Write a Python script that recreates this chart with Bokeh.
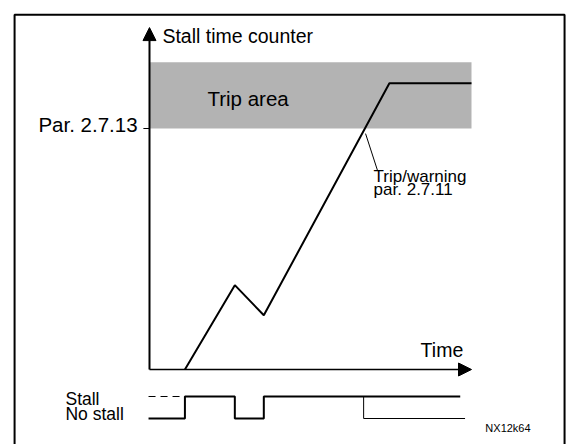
from bokeh.plotting import figure
from bokeh.models import Range1d, Arrow, NormalHead
from bokeh.core.properties import value
from bokeh.embed import file_html
from bokeh.resources import INLINE

# ---------------- data ----------------
# stall time counter (time units, counter units)
counter_t = [1.1, 2.65, 3.55, 7.45, 10.0]
counter_v = [0.0, 2.8, 1.8, 9.5, 9.5]
trip_level = 8.0          # Par. 2.7.13
trip_area_top = 10.2
time_axis_end = 10.0
counter_axis_top = 11.35
trip_t = 6.65             # counter reaches Par. 2.7.13

# stall signal (1 = Stall, 0 = No stall)
signal_t = [-0.03, 1.1, 1.1, 2.65, 2.65, 3.55, 3.55, 9.65]
signal_v = [0, 0, 1, 1, 0, 0, 1, 1]
signal_before_t = [-0.03, 1.1]
signal_before_v = [1, 1]
warning_t = [trip_t, trip_t, 9.8]
warning_v = [1, 0, 0]

ytick_labels = ["Par. 2.7.13"]
signal_labels = ["Stall", "No stall"]

FONT = value("Liberation Sans")

p = figure(width=568, height=444, output_backend="svg", toolbar_location=None,
           x_range=Range1d(-4.6273, 13.0124), y_range=Range1d(-2.4896, 12.249),
           min_border=0, outline_line_color=None, x_axis_type=None, y_axis_type=None)
p.extra_y_ranges = {"sig": Range1d(-1.1818, 19.0)}
p.background_fill_color = "white"
p.border_fill_color = "white"

# outer frame (left, top, right)
p.line(x=[-4.19, -4.19, 12.89, 12.89], y=[-3.0, 11.78, 11.78, -3.0],
       line_color="black", line_width=2)

# trip area
p.quad(left=0, right=time_axis_end, bottom=trip_level, top=trip_area_top,
       fill_color="#b3b3b3", line_color=None)

# tick at trip level
p.segment(x0=[-0.19], x1=[0], y0=[trip_level], y1=[trip_level],
          line_color="black", line_width=1)

# counter line
p.line(counter_t, counter_v, line_color="black", line_width=2)

# leader line for trip/warning
p.segment(x0=[6.71], y0=[7.83], x1=[7.08], y1=[6.61], line_color="black", line_width=1)

# axes with arrows
p.add_layout(Arrow(end=NormalHead(size=13, fill_color="black", line_color="black", line_width=1),
                   x_start=0, y_start=0, x_end=0, y_end=counter_axis_top,
                   line_color="black", line_width=2))
p.add_layout(Arrow(end=NormalHead(size=13, fill_color="black", line_color="black", line_width=1),
                   x_start=0, y_start=0, x_end=time_axis_end, y_end=0,
                   line_color="black", line_width=1.5))

# stall signal
p.line(signal_before_t, signal_before_v, y_range_name="sig", line_color="black",
       line_width=1, line_dash="7 5")
p.line(signal_t, signal_v, y_range_name="sig", line_color="black", line_width=2)
p.line(warning_t, warning_v, y_range_name="sig", line_color="black", line_width=1)

# texts
def txt(x, y, s, size, align="left", yr="default"):
    p.text(x=[x], y=[y], text=[s], text_font=FONT, text_font_size=value(size),
           text_align=align, text_baseline="alphabetic", text_color="black",
           y_range_name=yr)

txt(0.40, 11.07, "Stall time counter", "19.5px")
txt(-0.37, 8.12, ytick_labels[0], "20.5px", align="right")
txt(1.80, 8.98, "Trip area", "20.5px")
txt(6.96, 6.42, "Trip/warning", "17px")
txt(6.96, 5.96, "par. 2.7.11", "17px")
txt(8.42, 0.65, "Time", "19.5px")
txt(-2.61, 0.886, signal_labels[0], "17.5px", yr="sig")
txt(-2.61, 0.205, signal_labels[1], "17.5px", yr="sig")
txt(10.43, -0.432, "NX12k64", "11px", yr="sig")

open("out.html", "w").write(file_html(p, INLINE))
